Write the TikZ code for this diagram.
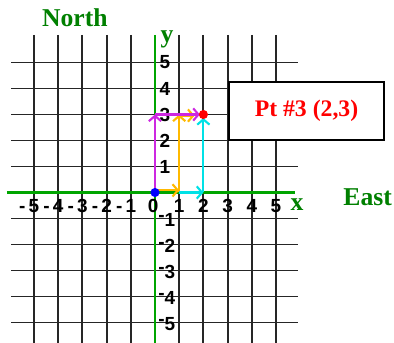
\documentclass[tikz,border=0pt]{standalone}
\usepackage{fontspec}
\setmainfont{Liberation Serif}
\setsansfont{Liberation Sans}
\usetikzlibrary{arrows.meta}
\definecolor{axisgreen}{RGB}{0,165,0}
\definecolor{textgreen}{RGB}{0,128,0}
\definecolor{pathmag}{RGB}{205,40,225}
\definecolor{pathorange}{RGB}{255,185,0}
\definecolor{pathcyan}{RGB}{0,225,230}
\tikzset{
  gridline/.style={line width=1.1pt, black!85},
  axisline/.style={line width=1.3pt, axisgreen},
  numlbl/.style={font=\sffamily\bfseries\fontsize{10.8}{11}\selectfont, inner sep=0pt},
  bigword/.style={font=\bfseries\fontsize{14.6}{15}\selectfont, textgreen, inner sep=0pt},
  vec/.style={line width=1.2pt, -{Straight Barb[length=3pt,width=7pt]}}
}
\begin{document}
\begin{tikzpicture}[x=0.484cm, y=0.52cm]
    \useasboundingbox (-6.405,-5.788) rectangle (9.876,7.404);
    % grid
    \foreach \k in {-5,...,-1,1,2,3,4,5} {
        \draw[gridline] (\k,6.06) -- (\k,-5.8);
        \draw[gridline] (-5.95,\k) -- (5.91,\k);
    }
    % axes
    \draw[axisline] (-6.12,0) -- (5.79,0);
    \draw[axisline] (0,6.06) -- (0,-5.8);
    \node[bigword] (ylbl) at (0.5,5.9) {y};
    \node[bigword] (xlbl) at (5.87,-0.47) {x};
    \node[bigword] (north) at (-3.31,6.71) {North};
    \node[bigword] (east) at (8.79,-0.17) {East};
    % numbers
    \foreach \k in {1,...,5} {
        \node[numlbl] (xp\k) at (\k,-0.52) {\k};
        \node[numlbl] (xn\k) at (-\k,-0.52) {\llap{-\,}\k};
        \node[numlbl] (yp\k) at (0.41,\k) {\k};
        \node[numlbl] (yn\k) at (0.62,-\k-0.05) {\llap{\raisebox{2.5pt}{-}}\k};
    }
    \node[numlbl] (x0) at (-0.08,-0.52) {0};
    % points
    \coordinate (O) at (0,0);
    \coordinate (A) at (1,0);
    \coordinate (B) at (2,0);
    \coordinate (C) at (0,3);
    \coordinate (D) at (1,3);
    \coordinate (P) at (2,3);
    \draw[vec, pathorange] ([yshift=1.2pt]O) -- ([yshift=1.2pt]A);
    \draw[vec, pathorange] (A) -- (D);
    \draw[vec, pathorange, shorten >=5pt] ([yshift=-0.6pt]D) -- ([yshift=-0.6pt]P);
    \draw[vec, pathcyan] (A) -- (B);
    \draw[vec, pathcyan, shorten >=2pt] (B) -- (P);
    \draw[vec, pathmag] (O) -- (C);
    \draw[vec, pathmag, shorten >=2pt] (C) -- (P);
    \fill[red] (P) circle (2.6pt);
    \fill[blue] (O) circle (2.6pt);
    % label box
    \node[draw, line width=1pt, fill=white, minimum width=3.1cm, minimum height=1.16cm,
          font=\bfseries\fontsize{13.5}{14}\selectfont, text=red] (ptbox) at (6.26,3.135) {Pt \#3 (2,3)};
\end{tikzpicture}
\end{document}
